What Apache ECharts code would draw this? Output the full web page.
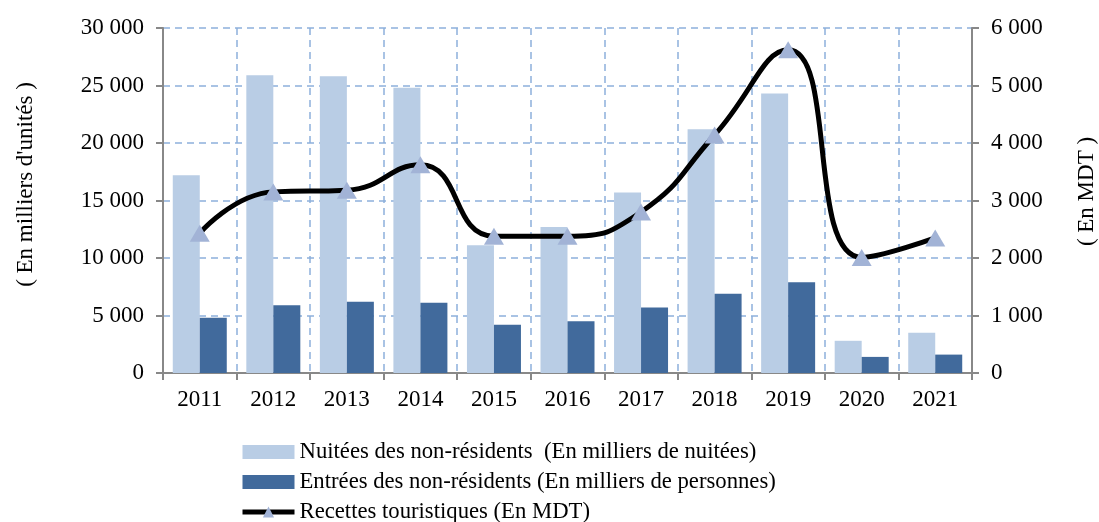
<!DOCTYPE html>
<html>
<head>
<meta charset="utf-8">
<script src="https://cdn.jsdelivr.net/npm/echarts@6/dist/echarts.min.js"></script>
<style>
  html, body { margin: 0; padding: 0; background: #fff; }
  #chart { width: 1099px; height: 522px; }
</style>
</head>
<body>
<div id="chart"></div>
<script>
const years = ['2011', '2012', '2013', '2014', '2015', '2016', '2017', '2018', '2019', '2020', '2021']
// Nuitées des non-résidents (milliers de nuitées)
const nuitees = [17200, 25900, 25800, 24800, 11100, 12700, 15700, 21200, 24300, 2800, 3500]
// Entrées des non-résidents (milliers de personnes)
const entrees = [4800, 5900, 6200, 6100, 4200, 4500, 5700, 6900, 7900, 1400, 1600]
// Recettes touristiques (MDT)
const recettes = [2430, 3150, 3180, 3620, 2380, 2380, 2800, 4140, 5620, 2010, 2350]

const font = 'Liberation Serif'
const fmt = v => String(v).replace(/\B(?=(\d{3})+(?!\d))/g, ' ')
const gridLine = { show: true, lineStyle: { color: '#8DB0DC', type: [7, 5], width: 1.5 } }

const chart = echarts.init(document.getElementById('chart'))
chart.setOption({
  animation: false,
  textStyle: { fontFamily: font, color: '#000' },
  grid: { left: 163, right: 127, top: 28, bottom: 149, outerBoundsMode: 'none' },
  legend: {
    orient: 'vertical',
    left: 240,
    top: 440,
    height: 120,
    padding: 0,
    itemGap: 6,
    itemWidth: 52,
    itemHeight: 14,
    textStyle: { fontFamily: font, fontSize: 22.7, lineHeight: 24, color: '#000' },
    data: [
      { name: 'Nuitées des non-résidents  (En milliers de nuitées)', icon: 'rect' },
      { name: 'Entrées des non-résidents (En milliers de personnes)', icon: 'rect' },
      { name: 'Recettes touristiques (En MDT)', lineStyle: { width: 5 } }
    ]
  },
  xAxis: {
    type: 'category',
    data: years,
    axisLine: { lineStyle: { color: '#888', width: 2 } },
    axisTick: { show: true, length: 7, lineStyle: { color: '#888', width: 2 } },
    axisLabel: { fontFamily: font, fontSize: 23, color: '#000', margin: 15 },
    splitLine: gridLine
  },
  yAxis: [
    {
      type: 'value',
      min: 0,
      max: 30000,
      interval: 5000,
      name: "( En milliers d'unités )",
      nameLocation: 'middle',
      nameGap: 126,
      nameTextStyle: { fontFamily: font, fontSize: 23, color: '#000', padding: [0, 0, 0, 32] },
      axisLine: { show: true, lineStyle: { color: '#888', width: 2 } },
      axisTick: { show: true, length: 7, lineStyle: { color: '#888', width: 2 } },
      axisLabel: { fontFamily: font, fontSize: 23, color: '#000', margin: 19, formatter: fmt },
      splitLine: gridLine
    },
    {
      type: 'value',
      min: 0,
      max: 6000,
      interval: 1000,
      position: 'right',
      name: '( En MDT )',
      nameLocation: 'middle',
      nameGap: 103,
      nameRotate: 90,
      nameTextStyle: { fontFamily: font, fontSize: 23, color: '#000', padding: [0, 0, 0, 18] },
      axisLine: { show: true, lineStyle: { color: '#888', width: 2 } },
      axisTick: { show: true, length: 7, lineStyle: { color: '#888', width: 2 } },
      axisLabel: { fontFamily: font, fontSize: 23, color: '#000', margin: 19, formatter: fmt },
      splitLine: { show: false }
    }
  ],
  series: [
    {
      name: 'Nuitées des non-résidents  (En milliers de nuitées)',
      type: 'bar',
      data: nuitees,
      barWidth: 27,
      barGap: '0%',
      itemStyle: { color: '#B9CDE5' }
    },
    {
      name: 'Entrées des non-résidents (En milliers de personnes)',
      type: 'bar',
      data: entrees,
      barWidth: 27,
      barGap: '0%',
      itemStyle: { color: '#416A9C' }
    },
    {
      name: 'Recettes touristiques (En MDT)',
      type: 'line',
      yAxisIndex: 1,
      data: recettes,
      smooth: 0.5,
      symbol: 'triangle',
      symbolSize: [20, 17],
      lineStyle: { color: '#000', width: 5 },
      itemStyle: { color: '#A2B3D6', borderWidth: 0 },
      z: 5
    }
  ]
})
</script>
</body>
</html>
